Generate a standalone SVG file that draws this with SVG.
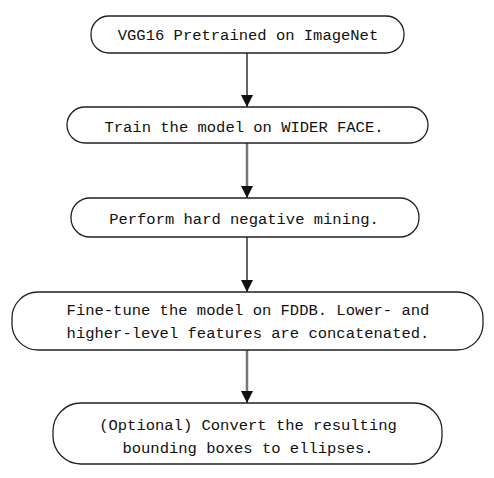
<svg xmlns="http://www.w3.org/2000/svg" width="494" height="478" viewBox="0 0 494 478">
<style>
.box{fill:#fff;stroke:#222;stroke-width:1.3}
.t{font-family:"Liberation Mono",monospace;font-size:15.5px;fill:#111;text-anchor:middle}
.ln{stroke:#111;stroke-width:1.3;fill:none}
.gray{stroke:#777;stroke-width:2.5}
</style>
<defs>
<marker id="ah" markerUnits="userSpaceOnUse" markerWidth="14" markerHeight="14" refX="12" refY="6" orient="auto">
<path d="M0,0 L12,6 L0,12 Z" fill="#111"/>
</marker>
</defs>
<rect width="494" height="478" fill="#fff"/>
<g id="connectors">
<line class="ln" x1="247" y1="53" x2="247" y2="107" marker-end="url(#ah)"/>
<line class="ln gray" x1="247" y1="143" x2="247" y2="187"/>
<line class="ln" x1="247" y1="186" x2="247" y2="198" marker-end="url(#ah)"/>
<line class="ln" x1="247" y1="237" x2="247" y2="292" marker-end="url(#ah)"/>
<line class="ln gray" x1="247" y1="350" x2="247" y2="392"/>
<line class="ln" x1="247" y1="391" x2="247" y2="403" marker-end="url(#ah)"/>
</g>
<g id="n1">
<rect class="box" x="91" y="16" width="313" height="37" rx="18" ry="18"/>
<text class="t" x="248" y="40">VGG16 Pretrained on ImageNet</text>
</g>
<g id="n2">
<rect class="box" x="67" y="107" width="361" height="36" rx="18" ry="18"/>
<text class="t" x="244" y="132">Train the model on WIDER FACE.</text>
</g>
<g id="n3">
<rect class="box" x="71" y="198" width="348" height="39" rx="19" ry="19"/>
<text class="t" x="244" y="224">Perform hard negative mining.</text>
</g>
<g id="n4">
<rect class="box" x="12" y="292" width="471" height="58" rx="26" ry="26"/>
<text class="t" x="248" y="315">Fine-tune the model on FDDB. Lower- and</text>
<text class="t" x="248" y="338">higher-level features are concatenated.</text>
</g>
<g id="n5">
<rect class="box" x="53" y="403" width="389" height="61" rx="28" ry="28"/>
<text class="t" x="248" y="430">(Optional) Convert the resulting</text>
<text class="t" x="248" y="453">bounding boxes to ellipses.</text>
</g>
</svg>
